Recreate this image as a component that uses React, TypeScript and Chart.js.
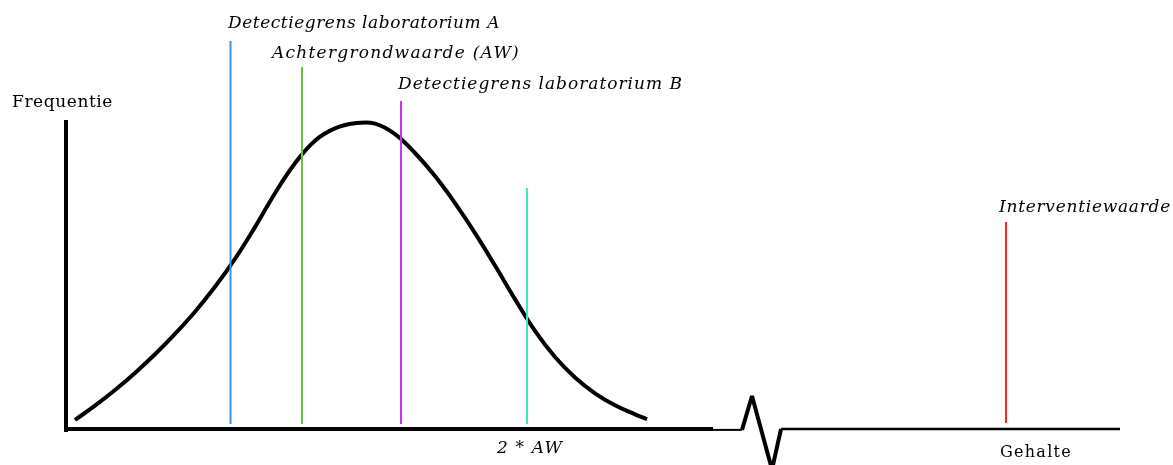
import React, { useEffect, useRef } from "react";
import { Chart, registerables } from "chart.js";

Chart.register(...registerables);

// ---- data (arbitrary units) ----
// Frequency distribution curve
const curveX = [0.9, 2.9, 4.9, 6.9, 8.9, 10.9, 12.9, 14.9, 16.9, 18.9, 20.9, 22.9, 24.9, 26.9, 28.9, 30.9, 32.9, 34.9, 36.9, 38.9, 40.9, 42.9, 44.9, 46.9, 48.9, 50.9, 52.9, 54.9, 56.9, 58.1];
const curveY = [3, 7.8, 13, 18.7, 24.9, 31.7, 39.1, 47.4, 56.7, 67.3, 78.6, 88.6, 96.1, 100.2, 101.9, 101.8, 98.3, 92, 84.3, 75.3, 65.3, 54.5, 43.3, 32.7, 24, 17.2, 11.9, 7.9, 4.9, 3.3];

// Vertical reference lines
const markerNames = ["Detectiegrens laboratorium A", "Achtergrondwaarde (AW)", "Detectiegrens laboratorium B", "2 * AW", "Interventiewaarde"];
const markerX = [16.45, 23.6, 33.5, 46.1, 94.0];
const markerTop = [129.3, 120.7, 109.3, 80.3, 69];
const markerBottom = [1.7, 1.7, 1.7, 1.7, 2];

// Axes (with a break in the horizontal axis)
const yAxisX = [0, 0];
const yAxisY = [-1, 103];
const xAxisX = [0, 64.7];
const xAxisY = [0, 0];
const gapX = [64.7, 67.6];
const gapY = [-0.3, -0.3];
const breakX = [67.6, 68.6, 70.6, 71.5];
const breakY = [-0.3, 11, -13.5, 0];
const tailX = [71.5, 105.4];
const tailY = [0, 0];

const axisTitleY = "Frequentie";
const axisTitleX = "Gehalte";

// ---- styles ----
const markerColors = ["#3d8ff5", "#6cbf3a", "#c832fa", "#40e8c0", "#ff2626"];

// label layout: [text, left px, baseline px, target width px, italic, size]
const labelLayout: Array<[string, number, number, number, boolean, number]> = [
  [markerNames[0], 228, 28, 272, true, 17],
  [markerNames[1], 272, 58, 248, true, 17],
  [markerNames[2], 398, 89, 285, true, 17],
  [markerNames[3], 497, 453, 66, true, 17],
  [markerNames[4], 999, 212, 172, true, 17],
  [axisTitleY, 12, 107, 101, false, 17],
  [axisTitleX, 1000, 457, 72, false, 16],
];

const pts = (xs: number[], ys: number[]) => xs.map((x, i) => ({ x, y: ys[i] }));

const labelPlugin = {
  id: "textLabels",
  afterDatasetsDraw(chart: any) {
    const ctx = chart.ctx as CanvasRenderingContext2D;
    labelLayout.forEach(([text, x, y, w, italic, size]) => {
      ctx.save();
      ctx.font = `${italic ? "italic " : ""}${size}px "DejaVu Serif", serif`;
      ctx.fillStyle = "#000";
      ctx.textAlign = "left";
      ctx.textBaseline = "alphabetic";
      const natural = ctx.measureText(text).width;
      if (natural > w) {
        ctx.translate(x, y);
        ctx.scale(w / natural, 1);
        ctx.fillText(text, 0, 0);
      } else {
        const spacing = (w - natural) / text.length;
        (ctx as any).letterSpacing = `${spacing}px`;
        ctx.fillText(text, x, y);
      }
      ctx.restore();
    });
  },
};

export default function App() {
  const ref = useRef<HTMLCanvasElement | null>(null);

  useEffect(() => {
    if (!ref.current) return;
    const lineBase = {
      pointRadius: 0,
      pointHoverRadius: 0,
      fill: false,
      clip: false as any,
      tension: 0,
    };
    const datasets: any[] = [];
    markerX.forEach((mx, i) => {
      datasets.push({
        ...lineBase,
        label: markerNames[i],
        data: [{ x: mx, y: markerBottom[i] }, { x: mx, y: markerTop[i] }],
        borderColor: markerColors[i],
        borderWidth: 2,
        borderCapStyle: "butt",
        order: 0,
      });
    });
    datasets.push({
      ...lineBase,
      label: "Frequentie",
      data: pts(curveX, curveY),
      borderColor: "#000",
      borderWidth: 4,
      tension: 0.4,
      borderCapStyle: "butt",
      borderJoinStyle: "round",
      order: 1,
    });
    datasets.push({ ...lineBase, label: "y-as", data: pts(yAxisX, yAxisY), borderColor: "#000", borderWidth: 4, order: 2 });
    datasets.push({ ...lineBase, label: "x-as", data: pts(xAxisX, xAxisY), borderColor: "#000", borderWidth: 4, order: 2 });
    datasets.push({ ...lineBase, label: "x-as2", data: pts(gapX, gapY), borderColor: "#000", borderWidth: 2, order: 2 });
    datasets.push({ ...lineBase, label: "breuk", data: pts(breakX, breakY), borderColor: "#000", borderWidth: 4, borderJoinStyle: "bevel", order: 2 });
    datasets.push({ ...lineBase, label: "x-as3", data: pts(tailX, tailY), borderColor: "#000", borderWidth: 2.5, order: 2 });

    const chart = new Chart(ref.current, {
      type: "line",
      data: { datasets },
      options: {
        animation: false,
        responsive: false,
        events: [],
        layout: { padding: { left: 66, right: 47, top: 120, bottom: 36 } },
        scales: {
          x: { type: "linear", min: 0, max: 106, display: false },
          y: { type: "linear", min: 0, max: 103, display: false },
        },
        plugins: {
          legend: { display: false },
          tooltip: { enabled: false },
          title: { display: false },
        },
      },
      plugins: [labelPlugin],
    });
    return () => chart.destroy();
  }, []);

  return (
    <div style={{ position: "fixed", left: 0, top: 0, width: 1173, height: 465, background: "#fff" }}>
      <canvas ref={ref} width={1173} height={465} />
    </div>
  );
}
